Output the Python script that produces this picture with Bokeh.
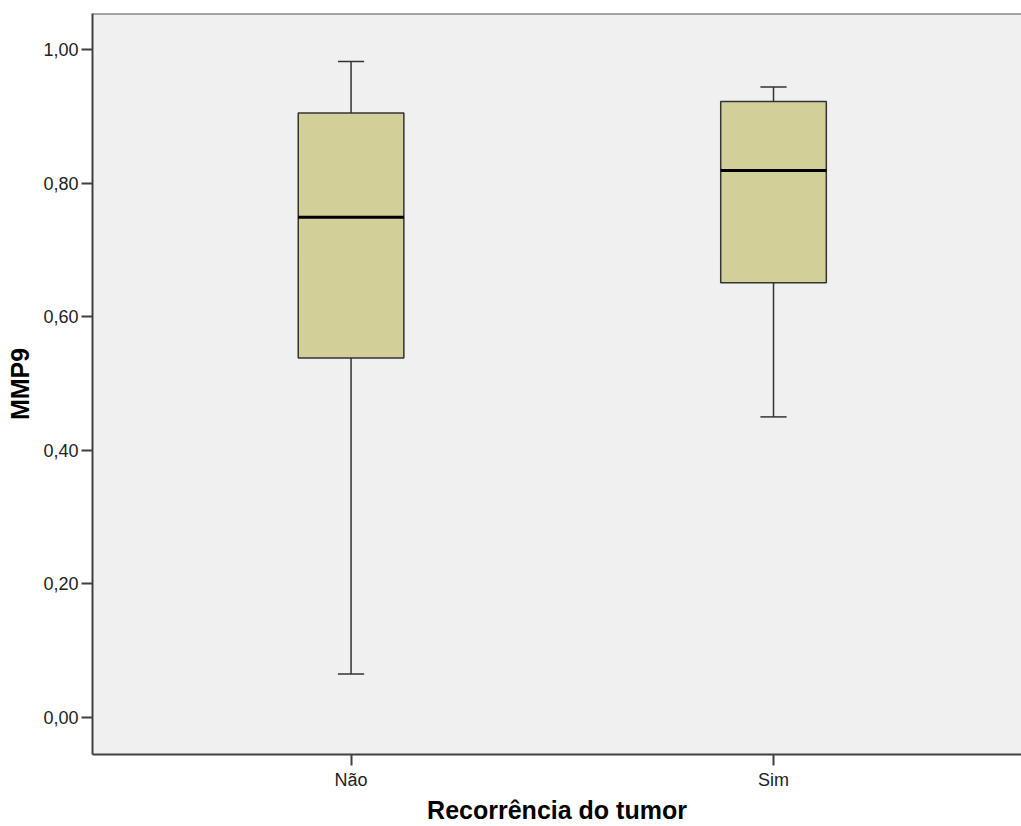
from bokeh.plotting import figure
from bokeh.models import Range1d, FixedTicker, CustomJSTickFormatter, Span
from bokeh.embed import file_html
from bokeh.resources import INLINE

# ---- data ----
categories = ["Não", "Sim"]
whisker_low = [0.065, 0.450]
q1 = [0.538, 0.651]
median = [0.749, 0.819]
q3 = [0.905, 0.922]
whisker_high = [0.982, 0.944]
y_ticks = [0.0, 0.2, 0.4, 0.6, 0.8, 1.0]
x_title = "Recorrência do tumor"
y_title = "MMP9"

# ---- style ----
FONT = "Liberation Sans"
BOX_FILL = "#d3cf98"
BG = "#f0f0f0"
LINE = "#333333"
box_w = 0.25
cap_w = 0.062

xs = [i + 0.5 for i in range(len(categories))]

p = figure(width=1021, height=826, output_backend="svg", toolbar_location=None,
           x_range=Range1d(-0.112, 2.087), y_range=Range1d(-0.0554, 1.0539),
           min_border_left=92, min_border_top=13, min_border_right=0, min_border_bottom=72)
p.background_fill_color = BG
p.border_fill_color = "white"
p.outline_line_color = None
p.grid.visible = False

# top frame line
p.add_layout(Span(location=p.y_range.end, dimension="width", line_color="#555555", line_width=2))

# whisker stems
p.segment(x0=xs, x1=xs, y0=whisker_low, y1=q1, line_color=LINE, line_width=1.5)
p.segment(x0=xs, x1=xs, y0=q3, y1=whisker_high, line_color=LINE, line_width=1.5)
# caps
p.segment(x0=[x - cap_w / 2 for x in xs], x1=[x + cap_w / 2 for x in xs],
          y0=whisker_low, y1=whisker_low, line_color=LINE, line_width=1.5)
p.segment(x0=[x - cap_w / 2 for x in xs], x1=[x + cap_w / 2 for x in xs],
          y0=whisker_high, y1=whisker_high, line_color=LINE, line_width=1.5)
# boxes
p.vbar(x=xs, width=box_w, bottom=q1, top=q3, fill_color=BOX_FILL,
       line_color=LINE, line_width=1.5)
# medians
p.segment(x0=[x - box_w / 2 for x in xs], x1=[x + box_w / 2 for x in xs],
          y0=median, y1=median, line_color="black", line_width=3)

# axes
p.xaxis.ticker = FixedTicker(ticks=xs)
p.xaxis.major_label_overrides = {x: c for x, c in zip(xs, categories)}
p.yaxis.ticker = FixedTicker(ticks=y_ticks)
p.yaxis.formatter = CustomJSTickFormatter(code="return tick.toFixed(2).replace('.', ',');")
p.xaxis.minor_tick_line_color = None
p.yaxis.minor_tick_line_color = None

for ax in (p.xaxis, p.yaxis):
    ax.axis_line_color = "#404040"
    ax.axis_line_width = 2
    ax.major_tick_line_color = "#404040"
    ax.major_tick_line_width = 2
    ax.major_tick_out = 11
    ax.major_tick_in = 0
    ax.major_label_text_font = FONT
    ax.major_label_text_font_size = "18px"
    ax.major_label_text_color = "#222222"
    ax.axis_label_text_font = FONT
    ax.axis_label_text_font_style = "bold"
    ax.axis_label_text_font_size = "25px"
    ax.axis_label_text_color = "black"

p.xaxis.axis_label = x_title
p.yaxis.axis_label = y_title
p.xaxis.major_label_standoff = 4
p.xaxis.axis_label_standoff = 3
p.yaxis.major_label_standoff = 3
p.yaxis.axis_label_standoff = 6

open("out.html", "w").write(file_html(p, INLINE))
